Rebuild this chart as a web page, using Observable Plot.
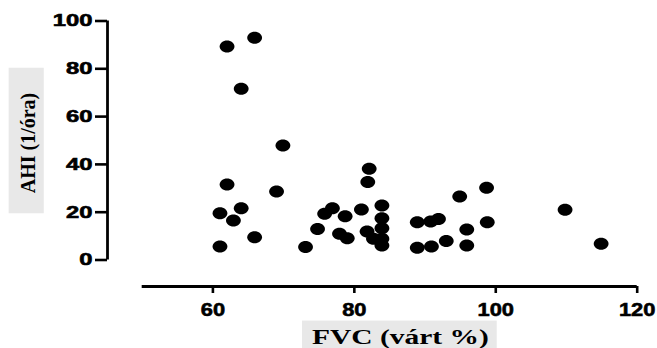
<!DOCTYPE html>
<html>
<head>
<meta charset="utf-8">
<script src="https://cdn.jsdelivr.net/npm/d3@7"></script>
<script src="https://cdn.jsdelivr.net/npm/@observablehq/plot@0.6"></script>
<style>
  html, body { margin: 0; padding: 0; background: #fff; }
</style>
</head>
<body>
<script>
// FVC (% predicted) and AHI (1/hour) values
const fvc = [62.0, 65.9, 64.0, 69.9, 62.0, 69.0, 61.0, 64.0, 62.9, 65.9, 61.0, 73.1, 74.8, 75.8, 76.9, 78.7, 77.9, 79.0, 81.0, 82.1, 81.9, 83.9, 83.9, 83.9, 81.8, 82.7, 83.9, 83.9, 88.9, 90.8, 91.9, 94.9, 98.7, 95.9, 98.8, 88.9, 90.9, 93.0, 95.9, 109.8, 114.9];
const ahi = [89.3, 93.0, 71.6, 47.9, 31.6, 28.7, 19.6, 21.7, 16.5, 9.5, 5.6, 5.4, 13.0, 19.3, 21.7, 18.3, 11.0, 9.1, 21.1, 38.2, 32.6, 22.8, 17.5, 13.3, 11.9, 8.9, 8.9, 6.1, 15.8, 16.1, 17.2, 26.6, 30.2, 12.8, 15.8, 5.1, 5.6, 7.9, 6.1, 21.0, 6.8];

const xTicks = [60, 80, 100, 120];
const yTicks = [0, 20, 40, 60, 80, 100];
const xLabel = "FVC (várt %)";
const yLabel = "AHI (1/óra)";

// detached Prism-style axes
const xAxisRange = [50, 120];
const yAxisRange = [0, 100];
const xDomain = [45.095, 120];
const yDomain = [-11.09, 100];

const data = fvc.map((x, i) => ({x, y: ahi[i]}));

const ellipse = {
  draw(ctx) {
    const rx = 7.4, ry = 6, k = 0.5523;
    ctx.moveTo(rx, 0);
    ctx.bezierCurveTo(rx, ry * k, rx * k, ry, 0, ry);
    ctx.bezierCurveTo(-rx * k, ry, -rx, ry * k, -rx, 0);
    ctx.bezierCurveTo(-rx, -ry * k, -rx * k, -ry, 0, -ry);
    ctx.bezierCurveTo(rx * k, -ry, rx, -ry * k, rx, 0);
    ctx.closePath();
  }
};

const chart = Plot.plot({
  width: 657,
  height: 348,
  marginLeft: 107,
  marginRight: 20.3,
  marginTop: 20.5,
  marginBottom: 62,
  style: {fontFamily: "'Liberation Sans', Arial, sans-serif", color: "#000", background: "#fff", overflow: "visible"},
  x: {domain: xDomain, axis: null},
  y: {domain: yDomain, axis: null},
  marks: [
    Plot.ruleX([xDomain[0]], {y1: yAxisRange[0], y2: yAxisRange[1], stroke: "#000", strokeWidth: 2.8}),
    Plot.ruleY([yDomain[0]], {x1: xAxisRange[0], x2: xAxisRange[1], stroke: "#000", strokeWidth: 2.8}),
    Plot.axisY({ticks: yTicks, tickSize: 12, tickPadding: 3, strokeWidth: 2.6, fontSize: 17, fontWeight: "bold", label: null}),
    Plot.axisX({ticks: xTicks, tickSize: 7, tickPadding: 9, strokeWidth: 2.6, fontSize: 19, fontWeight: "bold", label: null}),
    Plot.dot(data, {x: "x", y: "y", symbol: ellipse, fill: "#000", stroke: "none"}),
    Plot.text([yLabel], {frameAnchor: "left", rotate: -90, dx: -80, dy: -10.75, fontSize: 20, fontWeight: "bold", fontFamily: "'Liberation Serif', 'Times New Roman', serif", lineAnchor: "middle", textAnchor: "middle", fill: "#000"}),
    Plot.text([xLabel], {frameAnchor: "bottom", dx: 28, dy: 50.5, fontSize: 22, fontWeight: "bold", fontFamily: "'Liberation Serif', 'Times New Roman', serif", lineAnchor: "middle", textAnchor: "middle", fill: "#000"})
  ]
});

document.body.append(chart);

function stretchEl(el, s) {
  const t = el.getAttribute("transform");
  if (t && /^translate\([^)]*\)/.test(t)) {
    el.setAttribute("transform", t.replace(/^(translate\([^)]*\))/, `$1 scale(${s},1)`));
  } else {
    const x = +el.getAttribute("x") || 0, y = +el.getAttribute("y") || 0;
    el.setAttribute("transform", `translate(${x},${y}) scale(${s},1)` + (t ? " " + t : ""));
    el.removeAttribute("x");
    el.removeAttribute("y");
  }
}

function axisOf(el) {
  let n = el.parentNode;
  while (n && n !== chart) {
    const a = n.getAttribute && n.getAttribute("aria-label");
    if (a && a.startsWith("y-axis")) return "y";
    if (a && a.startsWith("x-axis")) return "x";
    n = n.parentNode;
  }
  return null;
}

function thicken(el, w) {
  el.setAttribute("stroke", "#000");
  el.setAttribute("stroke-width", w);
  el.setAttribute("paint-order", "stroke");
}

let yLabelEl = null, xLabelEl = null;
chart.querySelectorAll("text").forEach(el => {
  const txt = el.textContent;
  if (txt === yLabel) { yLabelEl = el; stretchEl(el, 1.1); }
  else if (txt === xLabel) { xLabelEl = el; stretchEl(el, 1.34); }
  else {
    const a = axisOf(el);
    if (a === "y") { stretchEl(el, 1.4); thicken(el, 0.6); }
    else if (a === "x") { stretchEl(el, 1.15); thicken(el, 0.6); }
  }
});

function boxBehind(t, padL, padR, padT, padB) {
  if (!t) return;
  const g = t.parentNode;
  const r = t.getBoundingClientRect();
  const s = chart.getBoundingClientRect();
  const rect = document.createElementNS("http://www.w3.org/2000/svg", "rect");
  rect.setAttribute("x", r.left - s.left - padL);
  rect.setAttribute("y", r.top - s.top - padT);
  rect.setAttribute("width", r.width + padL + padR);
  rect.setAttribute("height", r.height + padT + padB);
  rect.setAttribute("fill", "#e8e8e8");
  g.parentNode.insertBefore(rect, g);
}
boxBehind(yLabelEl, 6, 4, 25, 20);
boxBehind(xLabelEl, 10, 8, 4, 20);
</script>
</body>
</html>
